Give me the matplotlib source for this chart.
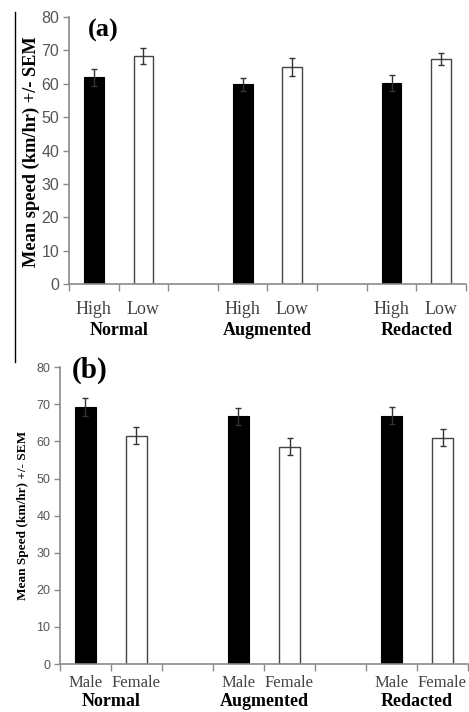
"""Mean speed +/- SEM by condition: (a) high/low group, (b) male/female."""
import matplotlib
matplotlib.use("Agg")
import matplotlib.pyplot as plt
from matplotlib.lines import Line2D

conditions = ["Normal", "Augmented", "Redacted"]

# panel (a): High vs Low
a_labels = ["High", "Low"]
a_high = [61.9, 59.8, 60.2]
a_high_sem = [2.5, 2.0, 2.4]
a_low = [68.4, 65.0, 67.4]
a_low_sem = [2.4, 2.7, 1.8]

# panel (b): Male vs Female
b_labels = ["Male", "Female"]
b_male = [69.4, 66.8, 67.0]
b_male_sem = [2.4, 2.3, 2.4]
b_female = [61.5, 58.6, 61.0]
b_female_sem = [2.3, 2.3, 2.3]

yticks = [0, 10, 20, 30, 40, 50, 60, 70, 80]

SERIF = "Liberation Serif"
SANS = "Liberation Sans"
GREY = "#8a8a8a"


def panel(ax, first, first_sem, second, second_sem, sub, tick_size, cat_size,
          cat_pad, group_off, ylabel, ylab_size, tag, tag_size, tag_xy, width):
    # 8 slots: pair, gap, pair, gap, pair
    xs1 = [0, 3, 6]
    xs2 = [1, 4, 7]
    ax.bar(xs1, first, width=width, color="black", edgecolor="black", lw=0.8)
    ax.bar(xs2, second, width=width, color="white", edgecolor="#444444", lw=1.0)
    ax.errorbar(xs1, first, yerr=first_sem, fmt="none", ecolor="#333333",
                elinewidth=1.0, capsize=2.2, capthick=1.0)
    ax.errorbar(xs2, second, yerr=second_sem, fmt="none", ecolor="#333333",
                elinewidth=1.0, capsize=2.2, capthick=1.0)

    ax.set_xlim(-0.5, 7.5)
    ax.set_ylim(0, 80)
    ax.set_yticks(yticks)
    ax.set_yticklabels([str(v) for v in yticks], fontfamily=SANS,
                       fontsize=tick_size, color="#555555")
    ax.tick_params(axis="y", direction="out", length=4, width=1, color=GREY, pad=3)

    ax.set_xticks([i - 0.5 for i in range(9)])
    ax.set_xticklabels([])
    ax.tick_params(axis="x", which="major", direction="out", length=5, width=1,
                   color=GREY)
    ax.set_xticks(list(range(8)), minor=True)
    ax.set_xticklabels([sub[0], sub[1], "", sub[0], sub[1], "", sub[0], sub[1]],
                       minor=True, fontfamily=SERIF, fontsize=cat_size,
                       color="#444444")
    ax.tick_params(axis="x", which="minor", length=0, pad=cat_pad)

    for x, name in zip([0.5, 3.5, 6.5], conditions):
        ax.annotate(name, xy=(x, 0), xycoords=ax.get_xaxis_transform(),
                    xytext=(0, -group_off), textcoords="offset pixels",
                    ha="center", va="center", fontfamily=SERIF,
                    fontweight="bold", fontsize=13, annotation_clip=False)

    for side in ("top", "right"):
        ax.spines[side].set_visible(False)
    for side in ("left", "bottom"):
        ax.spines[side].set_color(GREY)
        ax.spines[side].set_linewidth(1.2)

    ax.set_ylabel(ylabel, fontfamily=SERIF, fontweight="bold", fontsize=ylab_size)
    ax.text(tag_xy[0], tag_xy[1], tag, transform=ax.transAxes, ha="left",
            va="center", fontfamily=SERIF, fontweight="bold", fontsize=tag_size)


fig = plt.figure(figsize=(4.69, 7.12), dpi=100)

ax_a = fig.add_axes([0.1471, 0.6011, 0.8465, 0.3750])
panel(ax_a, a_high, a_high_sem, a_low, a_low_sem, a_labels, 11.5, 13, 12, 46,
      "Mean speed (km/hr) +/- SEM", 13.2, "(a)", 19, (0.048, 0.951), 0.4)
ax_a.yaxis.set_label_coords(-0.072, 0.494)

ax_b = fig.add_axes([0.1279, 0.0674, 0.8700, 0.4167])
panel(ax_b, b_male, b_male_sem, b_female, b_female_sem, b_labels, 9, 12, 8, 37,
      "Mean Speed (km/hr) +/- SEM", 9.5, "(b)", 21, (0.03, 0.99), 0.41)
ax_b.yaxis.set_label_coords(-0.077, 0.5)

# stray vertical rule on the left edge of the original figure
fig.add_artist(Line2D([15 / 469, 15 / 469], [1 - 12 / 712, 1 - 362 / 712],
                      transform=fig.transFigure, color="black", lw=1))

fig.savefig("out.png", dpi=100)
